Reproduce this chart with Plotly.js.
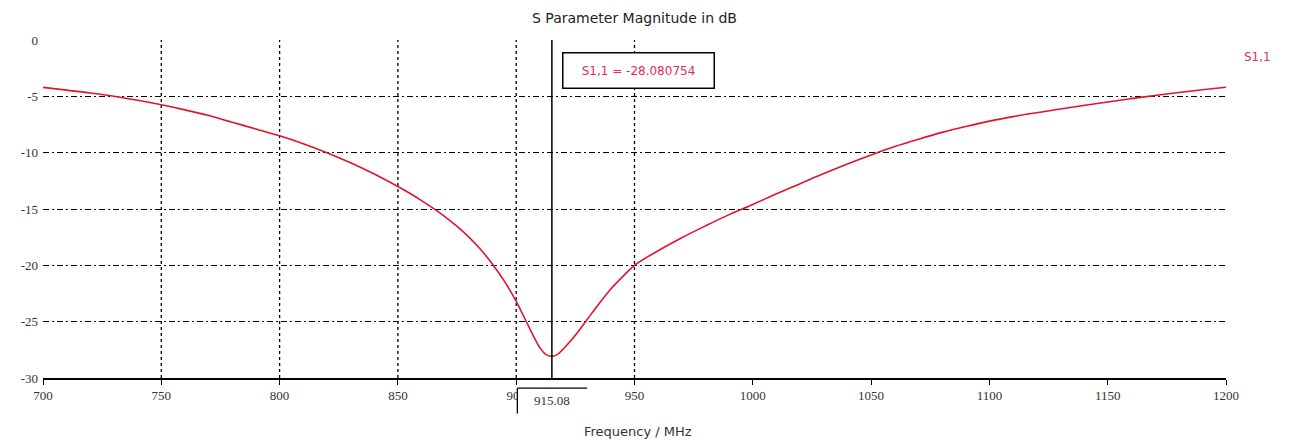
<!DOCTYPE html>
<html>
<head>
<meta charset="utf-8">
<script src="https://cdn.plot.ly/plotly-3.0.1.min.js"></script>
<style>
html,body{margin:0;padding:0;background:#fff;}
#chart{width:1291px;height:441px;}
</style>
</head>
<body>
<div id="chart"></div>
<script>
// ---- data ----
const freqMHz = [700, 710, 720, 730, 740, 750, 760, 770, 780, 790, 800, 810, 820, 830, 840, 850,
  855, 860, 865, 870, 875, 880, 885, 890, 895, 900, 905, 910, 912.5, 915.08, 917.5, 920, 925, 930, 935, 940, 945, 950,
  960, 970, 980, 990, 1000, 1010, 1020, 1030, 1040, 1050, 1060, 1070, 1080, 1090, 1100,
  1110, 1120, 1130, 1140, 1150, 1160, 1170, 1180, 1190, 1200];
const s11dB = [-4.2, -4.45, -4.7, -5.0, -5.35, -5.75, -6.2, -6.7, -7.3, -7.9, -8.5, -9.2, -10.0, -10.9, -11.9, -13.0,
  -13.6, -14.25, -14.95, -15.7, -16.55, -17.5, -18.6, -19.9, -21.4, -23.2, -25.3, -27.3, -27.9, -28.08, -27.9, -27.4, -26.2, -24.8, -23.4, -22.1, -21.0, -20.0,
  -18.7, -17.55, -16.5, -15.5, -14.6, -13.65, -12.75, -11.85, -11.0, -10.2, -9.45, -8.8, -8.2, -7.68, -7.2,
  -6.8, -6.45, -6.12, -5.8, -5.5, -5.2, -4.92, -4.66, -4.42, -4.2];
const xTicks = [700, 750, 800, 850, 900, 950, 1000, 1050, 1100, 1150, 1200];
const yTicks = [0, -5, -10, -15, -20, -25, -30];
const xGridVals = [750, 800, 850, 900, 950];
const markerFreq = 915.08;
const markerValue = -28.080754;
const seriesName = "S1,1";
const chartTitle = "S Parameter Magnitude in dB";
const xTitle = "Frequency / MHz";

const red = "#e0142f";
const shapes = [];
xGridVals.forEach(v => shapes.push({
  type: "line", xref: "x", yref: "paper", x0: v, x1: v, y0: 0, y1: 1,
  line: {color: "#000", width: 1.3, dash: "3px,3px"}, layer: "below"
}));
// marker line
shapes.push({type: "line", xref: "x", yref: "paper", x0: markerFreq, x1: markerFreq, y0: 0, y1: 1,
  line: {color: "#000", width: 1.5}, layer: "above"});
// marker label box on x axis (covers part of the 900 label)
shapes.push({type: "rect", xref: "x", yref: "paper", x0: markerFreq - 14.6, x1: markerFreq + 14.9, y0: -0.025, y1: -0.105,
  fillcolor: "#fff", line: {width: 0}, layer: "above"});
shapes.push({type: "line", xref: "x", yref: "paper", x0: markerFreq - 14.6, x1: markerFreq + 14.9, y0: -0.03, y1: -0.03,
  line: {color: "#000", width: 1.3}, layer: "above"});
shapes.push({type: "line", xref: "x", yref: "paper", x0: markerFreq - 14.6, x1: markerFreq - 14.6, y0: -0.03, y1: -0.105,
  line: {color: "#000", width: 1.3}, layer: "above"});

const layout = {
  width: 1291, height: 441,
  margin: {l: 43, r: 65, t: 40, b: 63},
  paper_bgcolor: "#fff", plot_bgcolor: "#fff",
  showlegend: false,
  xaxis: {
    range: [700, 1200], tickvals: xTicks, ticktext: xTicks.map(String),
    showgrid: false, zeroline: false,
    showline: true, linecolor: "#000", linewidth: 1.5,
    ticks: "outside", ticklen: 5, tickcolor: "#000",
    tickfont: {family: "Liberation Serif", size: 13, color: "#333"}
  },
  yaxis: {
    range: [-30, 0], tickvals: yTicks, ticktext: yTicks.map(String),
    showgrid: true, gridcolor: "#000", gridwidth: 1, griddash: "6px,3px,2px,3px",
    zeroline: false, showline: false, ticks: "", ticklabelstandoff: 4,
    tickfont: {family: "Liberation Serif", size: 13, color: "#333"}
  },
  shapes: shapes,
  annotations: [
    {text: chartTitle, xref: "paper", yref: "paper", x: 0.5, y: 1, yshift: 22, yanchor: "middle", showarrow: false,
     font: {family: "DejaVu Sans", size: 14, color: "#222"}},
    {text: xTitle, xref: "paper", yref: "paper", x: 0.503, y: 0, yshift: -53, yanchor: "middle", showarrow: false,
     font: {family: "DejaVu Sans", size: 13, color: "#333"}},
    {text: seriesName, xref: "paper", yref: "paper", x: 1, xshift: 16, y: 0.95, xanchor: "left", yanchor: "middle", showarrow: false,
     font: {family: "DejaVu Sans", size: 12, color: "#d03a5a"}},
    {text: seriesName + " = " + markerValue.toFixed(6), xref: "x", yref: "paper", x: markerFreq, xshift: 10, xanchor: "left",
     y: 0.965, yanchor: "top", showarrow: false, bgcolor: "#fff", bordercolor: "#000", borderwidth: 1.5,
     width: 148, height: 32, font: {family: "DejaVu Sans", size: 12, color: "#e0304f"}},
    {text: markerFreq.toFixed(2), xref: "x", yref: "paper", x: markerFreq, y: -0.066, yanchor: "middle", showarrow: false,
     font: {family: "Liberation Serif", size: 13, color: "#333"}}
  ]
};

Plotly.newPlot("chart", [{
  type: "scatter", mode: "lines", name: seriesName,
  x: freqMHz, y: s11dB, line: {color: red, width: 1.6, shape: "spline", smoothing: 1}
}], layout, {displayModeBar: false, staticPlot: true});
</script>
</body>
</html>
